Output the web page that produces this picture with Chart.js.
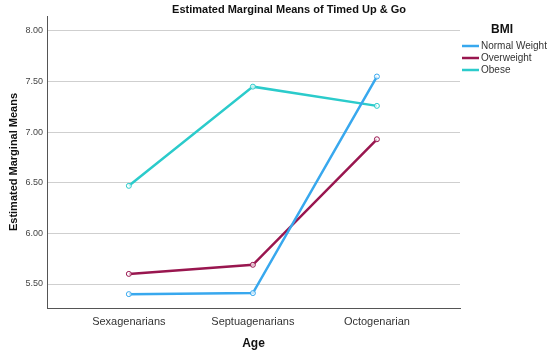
<!DOCTYPE html>
<html><head><meta charset="utf-8">
<script src="https://cdn.jsdelivr.net/npm/chart.js@4/dist/chart.umd.min.js"></script>
<style>html,body{margin:0;padding:0;background:#fff}#wrap{width:550px;height:356px}</style>
</head><body><div id="wrap"><canvas id="c"></canvas></div>
<script>
const categories = ["Sexagenarians", "Septuagenarians", "Octogenarian"];
const seriesNames = ["Normal Weight", "Overweight", "Obese"];
const normalWeight = [5.40, 5.41, 7.55];
const overweight = [5.60, 5.69, 6.93];
const obese = [6.47, 7.45, 7.26];
const yTicks = [5.5, 6.0, 6.5, 7.0, 7.5, 8.0];
const colors = ["#38A8EE", "#99164F", "#2BCBCB"];

const FONT = "'Liberation Sans', Arial, sans-serif";
const seriesValues = [normalWeight, overweight, obese];

const datasets = seriesValues.map((vals, i) => ({
  label: seriesNames[i],
  data: vals.map((v, j) => ({x: j, y: v})),
  borderColor: colors[i],
  backgroundColor: colors[i],
  borderWidth: 2.5,
  pointRadius: 2.5,
  pointBorderWidth: 1,
  pointBackgroundColor: "rgba(255,255,255,0.7)",
  pointBorderColor: colors[i],
  tension: 0
}));

const overlay = {
  id: 'overlay',
  afterDraw(chart) {
    const ctx = chart.ctx;
    ctx.save();
    ctx.fillStyle = '#111';
    ctx.font = "bold 11px " + FONT;
    ctx.textAlign = 'center';
    ctx.textBaseline = 'middle';
    ctx.fillText("Estimated Marginal Means of Timed Up & Go", 289, 10);
    // legend
    ctx.font = "bold 12px " + FONT;
    ctx.fillText("BMI", 502, 30);
    ctx.font = "10px " + FONT;
    ctx.textAlign = 'left';
    chart.data.datasets.forEach((ds, i) => {
      const y = 46 + i * 12;
      ctx.strokeStyle = ds.borderColor;
      ctx.lineWidth = 2.5;
      ctx.beginPath();
      ctx.moveTo(462, y);
      ctx.lineTo(479, y);
      ctx.stroke();
      ctx.fillStyle = '#333';
      ctx.fillText(ds.label, 481, y + 0.5);
    });
    ctx.restore();
  }
};

new Chart(document.getElementById('c'), {
  type: 'line',
  data: { datasets },
  options: {
    responsive: true,
    maintainAspectRatio: false,
    animation: false,
    layout: { padding: { top: 16, right: 90, left: 0, bottom: 0 } },
    plugins: { legend: { display: false }, title: { display: false }, tooltip: { enabled: false } },
    scales: {
      x: {
        type: 'linear',
        min: -0.66,
        max: 2.67,
        afterBuildTicks(scale) { scale.ticks = categories.map((c, i) => ({value: i})); },
        afterFit(scale) { scale.height = 48; },
        ticks: {
          callback: (v) => categories[v] ?? '',
          color: '#333',
          font: { family: FONT, size: 11 },
          padding: 7,
          maxRotation: 0
        },
        grid: { display: false, drawTicks: false },
        border: { display: true, color: '#555', width: 1 },
        title: { display: true, text: 'Age', color: '#111', font: { family: FONT, size: 12, weight: 'bold' }, padding: { top: 0, bottom: 5 } }
      },
      y: {
        min: 5.263,
        max: 8.148,
        afterBuildTicks(scale) { scale.ticks = yTicks.map(v => ({value: v})); },
        afterFit(scale) { scale.width = 47; },
        ticks: {
          callback: (v) => Number(v).toFixed(2),
          color: '#444',
          font: { family: FONT, size: 9 },
          padding: 4
        },
        grid: { color: '#cfcfcf', lineWidth: 1, drawTicks: false },
        border: { display: true, color: '#555', width: 1 },
        title: { display: true, text: 'Estimated Marginal Means', color: '#111', font: { family: FONT, size: 11, weight: 'bold' }, padding: { top: 7, bottom: 0 } }
      }
    }
  },
  plugins: [overlay]
});
</script>
</body></html>
